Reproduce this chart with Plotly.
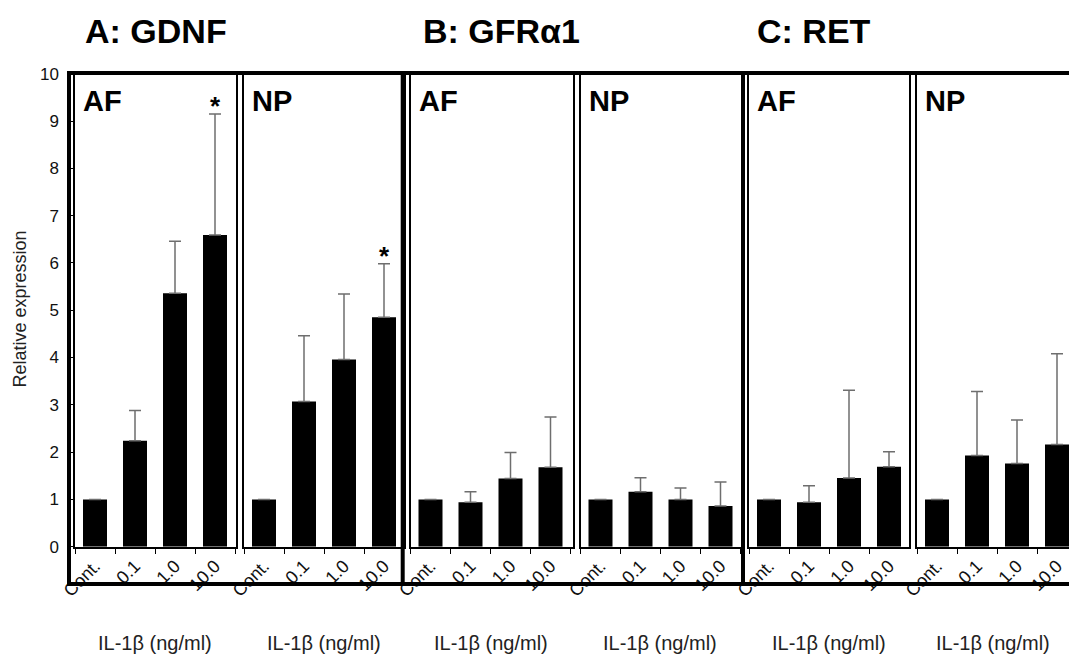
import plotly.graph_objects as go

# ---------------- data ----------------
categories = ["Cont.", "0.1", "1.0", "10.0"]

gdnf_af_mean = [1.00, 2.24, 5.36, 6.59]
gdnf_af_err = [0.00, 0.64, 1.10, 2.56]
gdnf_np_mean = [1.00, 3.07, 3.96, 4.85]
gdnf_np_err = [0.00, 1.39, 1.38, 1.13]

gfra1_af_mean = [1.00, 0.94, 1.44, 1.68]
gfra1_af_err = [0.00, 0.22, 0.55, 1.06]
gfra1_np_mean = [1.00, 1.16, 1.00, 0.86]
gfra1_np_err = [0.00, 0.30, 0.24, 0.51]

ret_af_mean = [1.00, 0.94, 1.45, 1.69]
ret_af_err = [0.00, 0.35, 1.86, 0.32]
ret_np_mean = [1.00, 1.93, 1.76, 2.16]
ret_np_err = [0.00, 1.35, 0.92, 1.92]

gdnf_af_sig = [False, False, False, True]
gdnf_np_sig = [False, False, False, True]
none_sig = [False, False, False, False]

gene_titles = ["A: GDNF", "B: GFRα1", "C: RET"]
tissue_labels = ["AF", "NP"]
x_title = "IL-1β (ng/ml)"
y_title = "Relative expression"
y_tick_values = [0, 1, 2, 3, 4, 5, 6, 7, 8, 9, 10]

# ---------------- layout geometry (pixels) ----------------
W, H = 1069, 657
FONT = "Liberation Sans, Arial, sans-serif"


def fx(px):
    return px / W


def fy(py):
    return 1 - py / H


Y_TOP, Y_BOT = 73.7, 546.7
STEP = 40.0

# (left px, right px) of each panel
panel_px = [(75, 236), (244, 403.5), (410.5, 572.5), (580.5, 740.7), (749, 908.5), (917, 1069)]

panels = [
    (gdnf_af_mean, gdnf_af_err, gdnf_af_sig),
    (gdnf_np_mean, gdnf_np_err, gdnf_np_sig),
    (gfra1_af_mean, gfra1_af_err, none_sig),
    (gfra1_np_mean, gfra1_np_err, none_sig),
    (ret_af_mean, ret_af_err, none_sig),
    (ret_np_mean, ret_np_err, none_sig),
]

fig = go.Figure()
annotations = []
layout_axes = {}

for i, ((mean, err, sig), (l, r)) in enumerate(zip(panels, panel_px)):
    n = i + 1
    xa = "x" if n == 1 else f"x{n}"
    ya = "y" if n == 1 else f"y{n}"
    fig.add_trace(go.Bar(
        x=categories, y=mean, xaxis=xa, yaxis=ya,
        width=0.6, marker=dict(color="black", line=dict(width=0)),
        error_y=dict(type="data", array=err, arrayminus=[0] * len(err), symmetric=False,
                     color="#6e6e6e", thickness=1.5, width=6),
        showlegend=False, hoverinfo="skip",
    ))
    rmax = (r - l) / STEP - 0.5
    last = (i == len(panels) - 1)
    layout_axes["xaxis" if n == 1 else f"xaxis{n}"] = dict(
        domain=[fx(l), fx(r)], anchor=ya, type="category",
        categoryorder="array", categoryarray=categories,
        range=[-0.5, rmax], tickson="boundaries",
        ticks="outside", ticklen=6, tickwidth=1, tickcolor="black",
        showline=True, linecolor="black", linewidth=1.5, mirror=True,
        tickangle=-45, tickfont=dict(family=FONT, size=18, color="#111"),
        showgrid=False, zeroline=False, automargin=False, fixedrange=True,
    )
    yd = dict(
        domain=[fy(Y_BOT), fy(Y_TOP)], anchor=xa, range=[0, 10],
        showline=True, linecolor="black", linewidth=1.5, mirror=not last,
        showgrid=False, zeroline=False, automargin=False, fixedrange=True,
    )
    if n == 1:
        yd.update(tickvals=y_tick_values, ticks="outside", ticklen=5, tickwidth=1,
                  tickcolor="black", ticklabelstandoff=6,
                  tickfont=dict(family=FONT, size=17, color="#111"))
    else:
        yd.update(showticklabels=False, ticks="")
    layout_axes["yaxis" if n == 1 else f"yaxis{n}"] = yd

    # tissue label
    annotations.append(dict(
        text=f"<b>{tissue_labels[i % 2]}</b>", xref="paper", yref="paper",
        x=fx(l + 6), y=fy(101), xanchor="left", yanchor="middle", showarrow=False,
        font=dict(family=FONT, size=29, color="black"),
    ))
    # x title
    cx = (l + min(r, l + 4 * STEP)) / 2
    annotations.append(dict(
        text=x_title, xref="paper", yref="paper",
        x=fx(cx), y=fy(643), xanchor="center", yanchor="middle", showarrow=False,
        font=dict(family=FONT, size=20, color="#222"),
    ))
    # significance markers
    for k, (m, e, s) in enumerate(zip(mean, err, sig)):
        if s:
            annotations.append(dict(
                text="<b>*</b>", xref=xa, yref=ya, x=k, y=m + e,
                xanchor="center", yanchor="bottom", yshift=-9, showarrow=False,
                font=dict(family=FONT, size=26, color="black"),
            ))

# gene titles
title_left_px = [85, 423, 757]
for t, px in zip(gene_titles, title_left_px):
    annotations.append(dict(
        text=f"<b>{t}</b>", xref="paper", yref="paper",
        x=fx(px - 2), y=fy(31), xanchor="left", yanchor="middle", showarrow=False,
        font=dict(family=FONT, size=34, color="black"),
    ))

# y title
annotations.append(dict(
    text=y_title, xref="paper", yref="paper", x=fx(19.5), y=fy(309),
    xanchor="center", yanchor="middle", textangle=-90, showarrow=False,
    font=dict(family=FONT, size=18, color="#222"),
))

# thick outer frame
FRAME_TOP, FRAME_BOT, FRAME_LEFT = 73, 584, 69
shapes = [
    dict(type="path", xref="paper", yref="paper",
         path=f"M {fx(W + 10)} {fy(FRAME_TOP)} L {fx(FRAME_LEFT)} {fy(FRAME_TOP)} "
              f"L {fx(FRAME_LEFT)} {fy(FRAME_BOT)} L {fx(W + 10)} {fy(FRAME_BOT)}",
         line=dict(color="black", width=4), layer="above"),
]
for sx in [402.7, 743]:
    shapes.append(dict(type="line", xref="paper", yref="paper",
                       x0=fx(sx), x1=fx(sx), y0=fy(FRAME_TOP), y1=fy(FRAME_BOT),
                       line=dict(color="black", width=4), layer="above"))

fig.update_layout(
    width=W, height=H, autosize=False,
    margin=dict(l=0, r=0, t=0, b=0, pad=0),
    paper_bgcolor="white", plot_bgcolor="white",
    template="none", showlegend=False, bargap=0.4,
    annotations=annotations, shapes=shapes,
    **layout_axes,
)

fig.write_html("out.html", config={"displayModeBar": False},
               post_script="document.body.style.margin='0px';")
